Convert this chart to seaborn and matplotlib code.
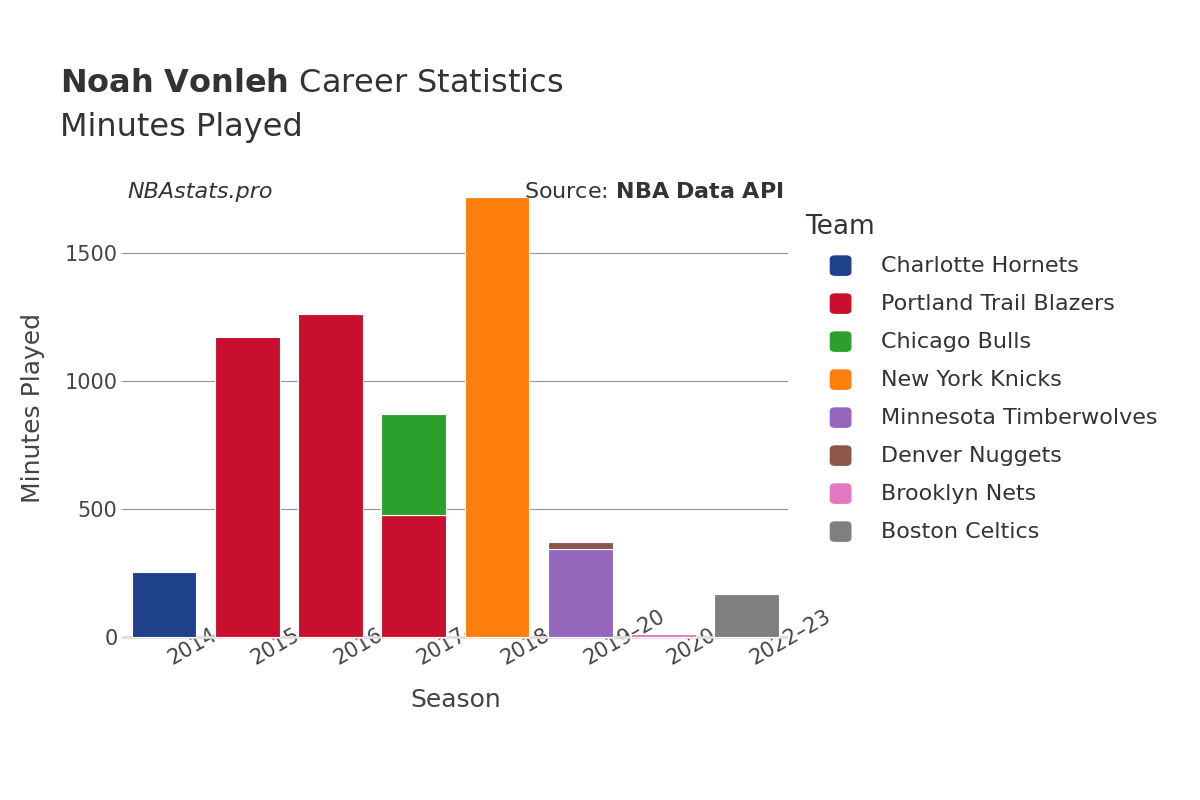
import matplotlib
matplotlib.use("Agg")
import matplotlib.pyplot as plt
import seaborn as sns
import pandas as pd
import numpy as np

seasons = ["2014–15", "2015–16", "2016–17", "2017–18", "2018–19", "2019–20", "2020–21", "2022–23"]
teams = ["Charlotte Hornets", "Portland Trail Blazers", "Chicago Bulls", "New York Knicks",
         "Minnesota Timberwolves", "Denver Nuggets", "Brooklyn Nets", "Boston Celtics"]
colors = ["#1f418b", "#c8102e", "#2ca02c", "#ff7f0e", "#9467bd", "#8c564b", "#e377c2", "#7f7f7f"]

# (season, team, minutes) in stacking order
rec_season = ["2014–15", "2015–16", "2016–17", "2017–18", "2017–18", "2018–19", "2019–20", "2019–20", "2020–21", "2022–23"]
rec_team = ["Charlotte Hornets", "Portland Trail Blazers", "Portland Trail Blazers", "Portland Trail Blazers",
            "Chicago Bulls", "New York Knicks", "Minnesota Timberwolves", "Denver Nuggets", "Brooklyn Nets", "Boston Celtics"]
rec_minutes = [255, 1171, 1262, 477, 394, 1718, 345, 29, 12, 168]

df = pd.DataFrame({"season": rec_season, "team": rec_team, "minutes": rec_minutes})
df["bottom"] = df.groupby("season")["minutes"].cumsum() - df["minutes"]
df["x"] = df["season"].map({s: i for i, s in enumerate(seasons)})

sns.set_theme(style="white", font="DejaVu Sans")
fig = plt.figure(figsize=(12, 8), dpi=100)
ax = fig.add_axes([0.102, 0.2, 0.555, 0.58])
cmap = dict(zip(teams, colors))
for _, r in df.iterrows():
    ax.bar(r["x"], r["minutes"], bottom=r["bottom"], width=0.78, color=cmap[r["team"]],
           edgecolor="white", linewidth=0.8, zorder=3)

ax.set_xlim(-0.5, len(seasons) - 0.5)
ax.set_ylim(-10, 1800)
ax.set_yticks([0, 500, 1000, 1500])
ax.set_yticklabels(["0", "500", "1000", "1500"], fontsize=15, color="#444444")
ax.set_xticks(range(len(seasons)))
ax.set_xticklabels(seasons, rotation=30, ha="left", rotation_mode="anchor", fontsize=15, color="#444444")
ax.tick_params(axis="x", pad=8, length=0)
ax.tick_params(axis="y", length=0)
ax.grid(axis="y", color="#999999", linewidth=0.9, zorder=0)
ax.axhline(0, color="#dddddd", linewidth=2, zorder=1)
for s in ax.spines.values():
    s.set_visible(False)
ax.set_xlabel("Season", fontsize=18, color="#444444", labelpad=14)
ax.set_ylabel("Minutes Played", fontsize=18, color="#444444", labelpad=14)

fig.text(0.05, 0.885, r"$\bf{Noah\ Vonleh}$ Career Statistics", fontsize=23, color="#333333")
fig.text(0.05, 0.83, "Minutes Played", fontsize=23, color="#333333")
fig.text(0.106, 0.752, "NBAstats.pro", fontsize=16, style="italic", color="#333333")
fig.text(0.653, 0.752, r"Source: $\bf{NBA\ Data\ API}$", fontsize=16, color="#333333", ha="right")

fig.text(0.671, 0.708, "Team", fontsize=19, color="#333333")
for i, (t, c) in enumerate(zip(teams, colors)):
    y = 0.667 - i * 0.0475
    fig.patches.append(matplotlib.patches.FancyBboxPatch((0.692, y - 0.011), 0.017, 0.024,
                       boxstyle="round,pad=0,rounding_size=0.004", transform=fig.transFigure,
                       color=c, figure=fig))
    fig.text(0.734, y, t, fontsize=16, color="#333333", va="center")

fig.savefig("out.png", dpi=100)
